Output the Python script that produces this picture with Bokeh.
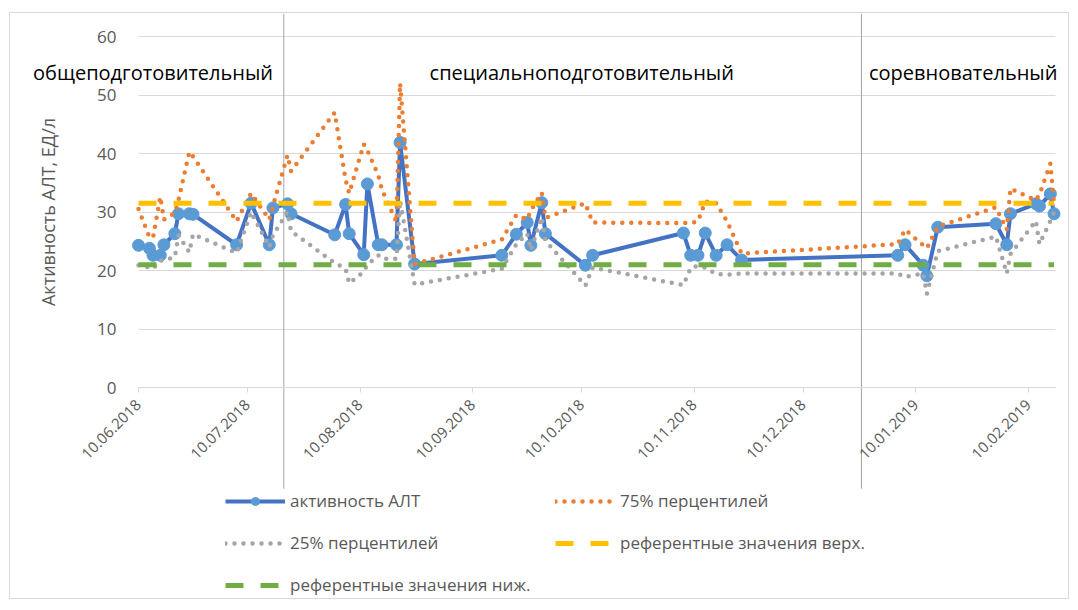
import math
import pandas as pd
from bokeh.plotting import figure
from bokeh.models import (Arrow, Label, Legend, LegendItem, FixedTicker,
                          DatetimeTickFormatter, Range1d)
from bokeh.embed import file_html
from bokeh.resources import INLINE

# ---------------- data ----------------
dates = [
    "2018-06-10", "2018-06-13", "2018-06-14", "2018-06-16", "2018-06-17", "2018-06-20",
    "2018-06-21", "2018-06-24", "2018-06-25",
    "2018-07-07", "2018-07-11", "2018-07-16", "2018-07-17", "2018-07-21", "2018-07-22",
    "2018-08-03", "2018-08-06", "2018-08-07", "2018-08-11", "2018-08-12", "2018-08-15",
    "2018-08-16", "2018-08-20", "2018-08-21", "2018-08-25",
    "2018-09-18", "2018-09-22", "2018-09-25", "2018-09-26", "2018-09-29", "2018-09-30",
    "2018-10-11", "2018-10-13",
    "2018-11-07", "2018-11-09", "2018-11-11", "2018-11-13", "2018-11-16", "2018-11-19",
    "2018-11-23",
    "2019-01-05", "2019-01-07", "2019-01-12", "2019-01-13", "2019-01-16",
    "2019-02-01", "2019-02-04", "2019-02-05", "2019-02-12", "2019-02-13", "2019-02-16",
    "2019-02-17",
]
alt_activity = [
    24.3, 23.8, 22.6, 22.6, 24.4, 26.3, 29.7, 29.7, 29.6,
    24.4, 31.5, 24.4, 30.7, 31.4, 29.7,
    26.1, 31.3, 26.3, 22.7, 34.8, 24.4, 24.4, 24.4, 41.9, 21.1,
    22.6, 26.2, 28.2, 24.3, 31.6, 26.3,
    20.9, 22.6,
    26.4, 22.6, 22.6, 26.4, 22.6, 24.4, 21.8,
    22.6, 24.4, 20.9, 19.1, 27.4,
    28.0, 24.4, 29.7, 31.4, 31.0, 33.1, 29.7,
]
p75 = [
    30.5, 25.7, 25.6, 32.6, 28.7, 29.8, 32.0, 40.3, 39.5,
    28.4, 33.2, 28.7, 31.0, 39.7, 37.0,
    47.0, 35.5, 33.2, 41.6, 40.5, 36.3, 33.8, 28.3, 52.0, 21.1,
    25.3, 29.5, 28.7, 30.3, 33.3, 29.0,
    31.5, 28.2,
    28.1, 28.1, 28.4, 31.8, 31.5, 28.4, 22.9,
    24.5, 27.0, 24.3, 23.8, 27.5,
    30.8, 27.0, 34.0, 32.0, 33.0, 38.3, 31.4,
]
p25 = [
    20.9, 20.5, 20.3, 21.7, 21.7, 22.3, 26.0, 23.1, 26.2,
    23.0, 30.0, 24.0, 26.0, 30.0, 26.7,
    21.3, 20.3, 17.8, 19.8, 21.0, 22.6, 22.0, 22.0, 32.0, 17.6,
    20.3, 24.5, 26.3, 23.5, 29.1, 25.1,
    17.4, 20.5,
    17.5, 20.5, 20.8, 20.5, 19.4, 19.3, 19.5,
    19.5, 18.9, 19.5, 16.0, 23.3,
    25.8, 19.5, 22.8, 28.5, 24.5, 28.5, 30.0,
]
ref_upper = 31.5
ref_lower = 21.0

axis_start = "2018-06-10"
axis_end = "2019-02-17 10:00"

phase_bounds = ["2018-07-20", "2018-12-26"]
phase_names = ["общеподготовительный", "специальноподготовительный", "соревновательный"]
phase_label_dates = ["2018-06-14", "2018-10-10", "2019-01-23"]

tick_dates = ["2018-06-10", "2018-07-10", "2018-08-10", "2018-09-10", "2018-10-10",
              "2018-11-10", "2018-12-10", "2019-01-10", "2019-02-10"]
y_ticks = [0, 10, 20, 30, 40, 50, 60]

series_names = ["активность АЛТ", "75% перцентилей", "25% перцентилей",
                "референтные значения верх.", "референтные значения ниж."]
y_title = "Активность АЛТ, ЕД/л"

# ---------------- helpers ----------------
DAY = 86400e3


def ms(d):
    return pd.Timestamp(d).value / 1e6


x = [pd.Timestamp(d) for d in dates]
x_ref = [x[0], x[-1]]

GRID = "#d9d9d9"
TXT = "#595959"
FONT = "Open Sans"

# layout (screen px of the page): plot content 10..1070 x 13..600
PX_PER_DAY = 3.633
PX_PER_UNIT = 5.85
DATA_LEFT_PX, Y0_PX = 138, 387
CONTENT_L, CONTENT_R, CONTENT_T, CONTENT_B = 10, 1070, 13, 600

x_lo = ms(axis_start) - (DATA_LEFT_PX - CONTENT_L) / PX_PER_DAY * DAY
x_hi = ms(axis_start) + (CONTENT_R - DATA_LEFT_PX) / PX_PER_DAY * DAY
y_lo = -(CONTENT_B - Y0_PX) / PX_PER_UNIT
y_hi = (Y0_PX - CONTENT_T) / PX_PER_UNIT

p = figure(width=CONTENT_R - CONTENT_L, height=CONTENT_B - CONTENT_T,
           x_axis_type="datetime", output_backend="svg", toolbar_location=None,
           x_range=Range1d(x_lo, x_hi), y_range=Range1d(y_lo, y_hi),
           min_border=0)
p.styles = {"border": "1px solid #d9d9d9", "margin-left": "9px", "margin-top": "12px"}
p.outline_line_color = None
p.background_fill_color = "white"
p.border_fill_color = "white"

# grid
p.xgrid.visible = False
p.ygrid.grid_line_color = GRID
p.ygrid.grid_line_width = 1
p.ygrid.bounds = (y_ticks[0], y_ticks[-1])
try:
    p.ygrid.cross_bounds = (ms(axis_start), ms(axis_end))
except Exception:
    p.ygrid.visible = False
    p.segment(x0=[pd.Timestamp(axis_start)] * len(y_ticks), y0=y_ticks,
              x1=[pd.Timestamp(axis_end)] * len(y_ticks), y1=y_ticks,
              line_color=GRID, line_width=1)

# y axis
p.yaxis.fixed_location = ms(axis_start)
p.yaxis.bounds = (y_ticks[0], y_ticks[-1])
p.yaxis.ticker = FixedTicker(ticks=y_ticks)
p.yaxis.axis_line_color = None
p.yaxis.major_tick_line_color = None
p.yaxis.minor_tick_line_color = None
p.yaxis.major_label_text_font = FONT
p.yaxis.major_label_text_font_size = "17px"
p.yaxis.major_label_text_color = TXT
p.yaxis.major_label_standoff = 16
p.yaxis.axis_label = y_title
p.yaxis.axis_label_text_font = FONT
p.yaxis.axis_label_text_font_size = "18px"
p.yaxis.axis_label_text_font_style = "normal"
p.yaxis.axis_label_text_color = TXT
p.yaxis.axis_label_standoff = 34

# x axis
p.xaxis.fixed_location = 0
p.xaxis.bounds = (ms(axis_start), ms(axis_end))
p.xaxis.ticker = FixedTicker(ticks=[ms(d) for d in tick_dates])
fmt = "%d.%m.%Y"
p.xaxis.formatter = DatetimeTickFormatter(
    microseconds=fmt, milliseconds=fmt, seconds=fmt, minsec=fmt, minutes=fmt,
    hourmin=fmt, hours=fmt, days=fmt, months=fmt, years=fmt)
p.xaxis.major_label_orientation = math.pi / 4
p.xaxis.axis_line_color = GRID
p.xaxis.major_tick_line_color = GRID
p.xaxis.major_tick_out = 5
p.xaxis.major_tick_in = 0
p.xaxis.minor_tick_line_color = None
p.xaxis.major_label_text_font = FONT
p.xaxis.major_label_text_font_size = "15px"
p.xaxis.major_label_text_color = TXT
p.xaxis.major_label_standoff = 10

# phase boundaries
for b in phase_bounds:
    p.add_layout(Arrow(x_start=ms(b), x_end=ms(b), y_start=-17.3, y_end=63.9,
                       start=None, end=None, line_color="#a6a6a6", line_width=1,
                       level="underlay"))

# series
l_alt = p.line(x, alt_activity, line_color="#4472C4", line_width=4, line_join="round")
s_alt = p.scatter(x, alt_activity, marker="circle", size=12,
                  fill_color="#5B9BD5", line_color="#5B9BD5", line_width=1)
l_75 = p.line(x, p75, line_color="#ED7D31", line_width=4.5, line_dash="0 9",
              line_cap="round", line_join="round")
l_25 = p.line(x, p25, line_color="#A5A5A5", line_width=4.5, line_dash="0 9",
              line_cap="round", line_join="round")
l_up = p.line(x_ref, [ref_upper, ref_upper], line_color="#FFC000", line_width=5,
              line_dash="18 17")
l_lo = p.line(x_ref, [ref_lower, ref_lower], line_color="#70AD47", line_width=5,
              line_dash="18 17")

# phase labels
for name, d in zip(phase_names, phase_label_dates):
    p.add_layout(Label(x=ms(d), y=53.8, text=name, text_align="center",
                       text_baseline="middle", text_font=FONT,
                       text_font_size="20px", text_color="black"))

# legend
legend = Legend(items=[
    LegendItem(label=series_names[0], renderers=[l_alt, s_alt]),
    LegendItem(label=series_names[2], renderers=[l_25]),
    LegendItem(label=series_names[4], renderers=[l_lo]),
    LegendItem(label=series_names[1], renderers=[l_75]),
    LegendItem(label=series_names[3], renderers=[l_up]),
], location=(225 - CONTENT_L, 4), ncols=2)
legend.glyph_width = 60
legend.glyph_height = 20
legend.label_height = 20
legend.label_standoff = 5
legend.label_width = 246
legend.spacing = 19
legend.padding = 0
legend.margin = 0
legend.border_line_color = None
legend.background_fill_alpha = 0
legend.label_text_font = FONT
legend.label_text_font_size = "17px"
legend.label_text_color = TXT
p.add_layout(legend)

open("out.html", "w").write(file_html(p, INLINE))
